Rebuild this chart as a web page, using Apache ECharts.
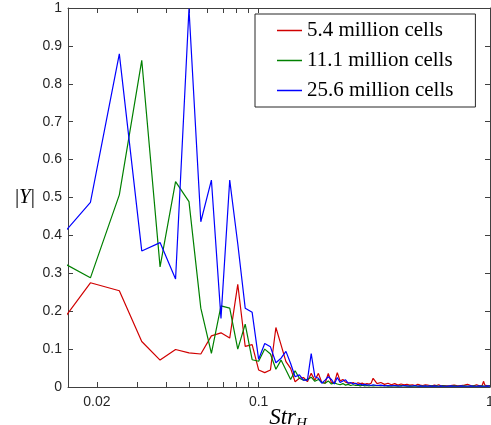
<!DOCTYPE html>
<html>
<head>
<meta charset="utf-8">
<script src="https://cdn.jsdelivr.net/npm/echarts@6/dist/echarts.min.js"></script>
<style>
html,body{margin:0;padding:0;background:#fff;}
#chart{width:491px;height:425px;}
</style>
</head>
<body>
<div id="chart"></div>
<script>
// Strouhal number grid (x values)
const strH = [0.0125,0.01875,0.025,0.03125,0.0375,0.04375,0.05,0.05625,0.0625,0.06875,0.075,0.08125,0.0875,0.09375,0.1,0.10625,0.1125,0.11875,0.125,0.13125,0.1375,0.14375,0.15,0.15625,0.1625,0.16875,0.175,0.18125,0.1875,0.19375,0.2,0.20625,0.2125,0.21875,0.225,0.23125,0.2375,0.24375,0.25,0.25625,0.2625,0.26875,0.275,0.28125,0.2875,0.29375,0.3,0.30625,0.3125,
0.325,0.3375,0.35,0.3625,0.375,0.3875,0.4,0.4125,0.425,0.4375,0.45,0.4625,0.475,0.4875,0.5,0.5125,0.525,0.5375,0.55,0.5625,0.575,0.5875,0.6,0.6125,0.625,0.6375,0.65,0.6625,0.675,0.6875,0.7,0.7125,0.725,0.7375,0.75,0.7625,0.775,0.7875,0.8,0.8125,0.825,0.8375,0.85,0.8625,0.875,0.8875,0.9,0.9125,0.925,0.9375,0.95,0.9625,0.975,0.9875,1.0];

const seriesNames = ['5.4 million cells', '11.1 million cells', '25.6 million cells'];

const y54 = [0.129,0.275,0.254,0.120,0.071,0.099,0.090,0.087,0.135,0.143,0.129,0.271,0.107,0.112,0.045,0.038,0.045,0.157,0.111,0.067,0.049,0.014,0.023,0.025,0.014,0.036,0.018,0.036,0.012,0.010,0.036,0.012,0.011,0.038,0.016,0.020,0.013,0.011,0.010,0.012,0.008,0.011,0.009,0.010,0.007,0.009,0.008,0.010,0.023,
0.009,0.012,0.007,0.010,0.006,0.009,0.005,0.008,0.006,0.007,0.005,0.006,0.004,0.007,0.005,0.004,0.006,0.005,0.004,0.003,0.005,0.004,0.006,0.003,0.004,0.005,0.003,0.006,0.004,0.003,0.005,0.004,0.003,0.006,0.004,0.003,0.005,0.004,0.007,0.003,0.004,0.005,0.003,0.004,0.006,0.004,0.003,0.005,0.004,0.015,0.005,0.004,0.003,0.005,0.004];

const y111 = [0.347,0.288,0.507,0.862,0.317,0.542,0.489,0.208,0.089,0.214,0.208,0.100,0.166,0.072,0.068,0.100,0.087,0.047,0.071,0.045,0.020,0.043,0.023,0.018,0.020,0.026,0.015,0.020,0.012,0.010,0.016,0.008,0.011,0.008,0.006,0.009,0.005,0.007,0.004,0.006,0.004,0.005,0.003,0.005,0.003,0.004,0.003,0.004,0.003,
0.004,0.003,0.004,0.002,0.003,0.003,0.002,0.004,0.003,0.002,0.003,0.002,0.003,0.002,0.003,0.002,0.003,0.002,0.002,0.003,0.002,0.003,0.002,0.002,0.003,0.002,0.002,0.003,0.002,0.002,0.003,0.002,0.002,0.003,0.002,0.002,0.003,0.002,0.002,0.003,0.002,0.002,0.003,0.002,0.002,0.003,0.002,0.002,0.003,0.002,0.002,0.003,0.002,0.002,0.003];

const y256 = [0.363,0.487,0.879,0.359,0.381,0.285,0.998,0.436,0.546,0.181,0.546,0.378,0.208,0.197,0.073,0.115,0.106,0.064,0.076,0.094,0.062,0.027,0.032,0.018,0.018,0.088,0.027,0.023,0.010,0.018,0.027,0.020,0.008,0.025,0.012,0.016,0.019,0.010,0.012,0.008,0.010,0.006,0.008,0.005,0.007,0.005,0.006,0.004,0.006,
0.004,0.005,0.003,0.004,0.003,0.004,0.003,0.002,0.004,0.003,0.002,0.003,0.004,0.002,0.003,0.002,0.003,0.002,0.003,0.002,0.003,0.002,0.002,0.003,0.002,0.003,0.002,0.002,0.003,0.002,0.002,0.003,0.002,0.002,0.003,0.002,0.002,0.003,0.002,0.002,0.003,0.002,0.002,0.003,0.002,0.002,0.003,0.002,0.002,0.003,0.002,0.002,0.003,0.002,0.002];

const xTickLabels = [0.02, 0.1, 1];
const xTicks = [0.02, 0.03, 0.04, 0.05, 0.06, 0.07, 0.08, 0.09, 0.1, 1];
const yMin = 0, yMax = 1, yStep = 0.1;
const xMin = 0.015, xMax = 1;

const colors = ['#d00000', '#008000', '#0000ff'];
const axisColor = '#404040';

function pairs(ys) { return strH.map((x, i) => [x, ys[i]]); }

const chart = echarts.init(document.getElementById('chart'), null, {renderer: 'canvas'});

const baseX = {
  type: 'log', logBase: 10, min: xMin, max: xMax,
  axisLine: {show: true, onZero: false, lineStyle: {color: axisColor, width: 1}},
  axisTick: {show: true, inside: true, length: 5, customValues: xTicks, lineStyle: {color: axisColor}},
  splitLine: {show: false}, minorTick: {show: false}, minorSplitLine: {show: false}
};
const baseY = {
  type: 'value', min: yMin, max: yMax, interval: yStep,
  axisLine: {show: true, onZero: false, lineStyle: {color: axisColor, width: 1}},
  axisTick: {show: true, inside: true, length: 5, lineStyle: {color: axisColor}},
  splitLine: {show: false}
};

const option = {
  animation: false,
  backgroundColor: '#fff',
  grid: {left: 68, right: 1, top: 8, bottom: 38, containLabel: false, outerBoundsMode: 'none'},
  xAxis: [
    Object.assign({}, baseX, {
      position: 'bottom',
      axisLabel: {show: true, customValues: xTickLabels, margin: 8, color: '#262626', fontFamily: 'Liberation Sans', fontSize: 14,
        formatter: v => String(+v.toPrecision(6))},
      name: '{i|Str}{s|H}', nameLocation: 'middle', nameGap: 19, nameMoveOverlap: false,
      nameTextStyle: {padding: [0, 0, 0, 18], rich: {
        i: {fontFamily: 'Liberation Serif', fontStyle: 'italic', fontSize: 23, color: '#000', lineHeight: 26, verticalAlign: 'top'},
        s: {fontFamily: 'Liberation Serif', fontStyle: 'italic', fontSize: 15, color: '#000', lineHeight: 15, verticalAlign: 'bottom'}
      }}
    }),
    Object.assign({}, baseX, {position: 'top', axisLabel: {show: false}})
  ],
  yAxis: [
    Object.assign({}, baseY, {
      position: 'left',
      axisLabel: {show: true, margin: 6, color: '#262626', fontFamily: 'Liberation Sans', fontSize: 14},
      name: '{n||}{i|Y}{n||}', nameLocation: 'middle', nameGap: 33, nameRotate: 0, nameMoveOverlap: false,
      nameTextStyle: {rich: {
        n: {fontFamily: 'Liberation Serif', fontSize: 21, color: '#000'},
        i: {fontFamily: 'Liberation Serif', fontStyle: 'italic', fontSize: 21, color: '#000'}
      }}
    }),
    Object.assign({}, baseY, {position: 'right', axisLabel: {show: false}})
  ],
  legend: {
    orient: 'vertical', left: 255, top: 14,
    padding: [6, 22, 6, 22],
    itemGap: 9, itemWidth: 25, itemHeight: 1.5, icon: 'rect',
    borderColor: '#262626', borderWidth: 1, backgroundColor: '#fff',
    textStyle: {fontFamily: 'Liberation Serif', fontSize: 21, lineHeight: 20, color: '#000'},
    data: seriesNames
  },
  series: [
    {name: seriesNames[0], data: pairs(y54)},
    {name: seriesNames[1], data: pairs(y111)},
    {name: seriesNames[2], data: pairs(y256)}
  ].map((s, i) => Object.assign(s, {
    type: 'line', xAxisIndex: 0, yAxisIndex: 0, showSymbol: false, symbol: 'none',
    color: colors[i], lineStyle: {width: 1.2, color: colors[i]}, clip: true
  }))
};
chart.setOption(option);
</script>
</body>
</html>
